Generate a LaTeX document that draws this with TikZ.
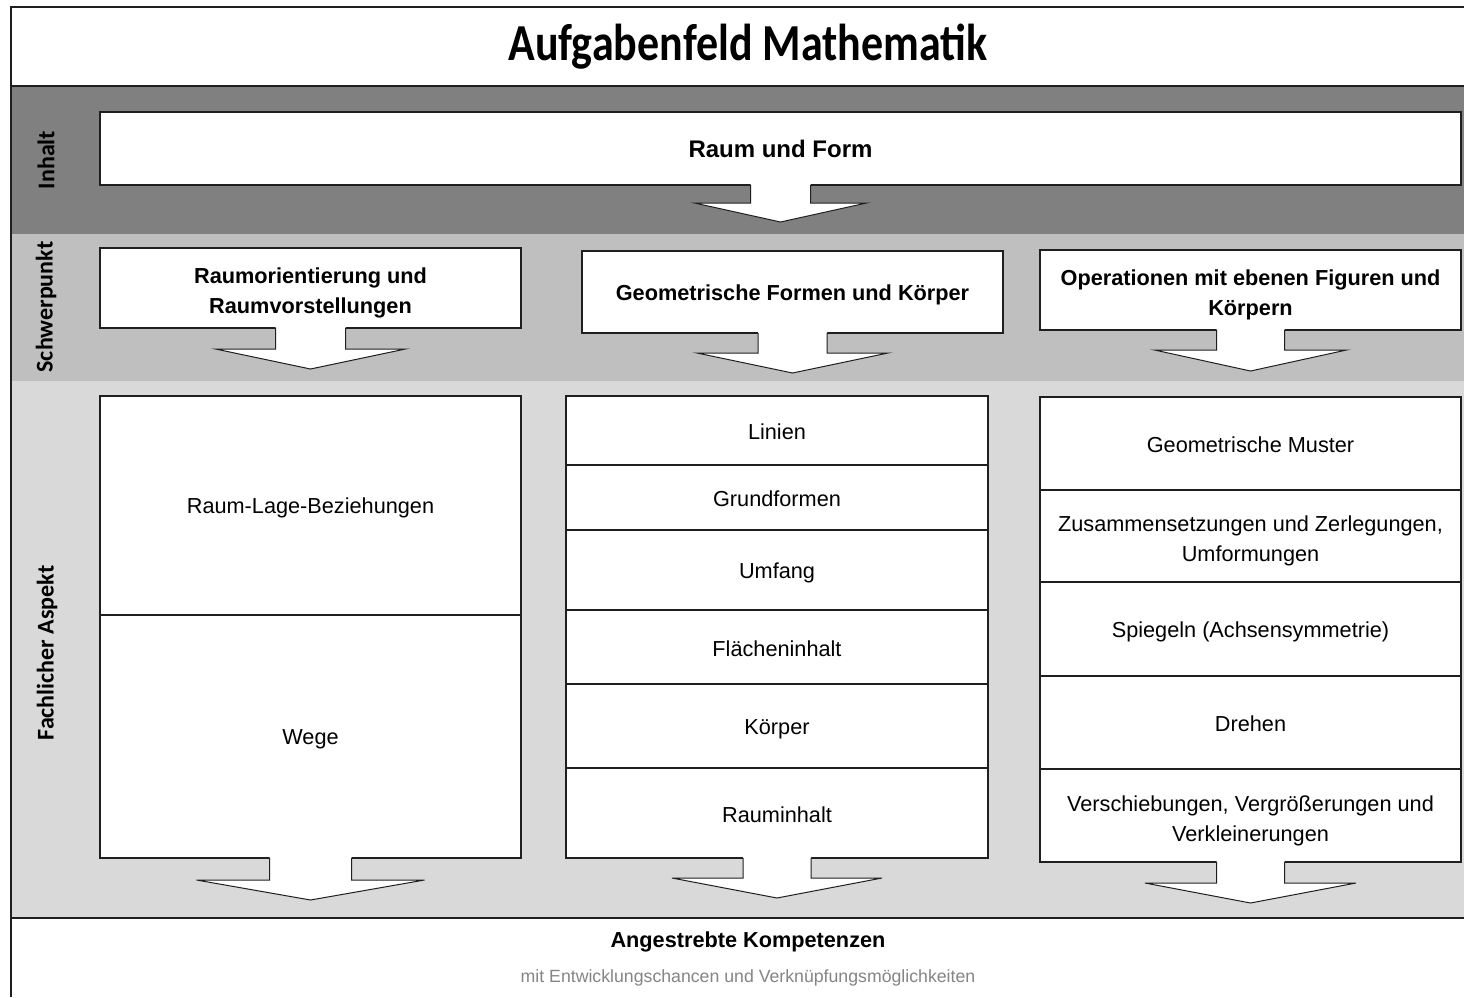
\documentclass[tikz,border=0pt]{standalone}
\usepackage{fontspec}
\setmainfont{Liberation Sans}
\newfontfamily\calibri{Carlito}
\usetikzlibrary{calc, positioning}
\definecolor{Dunkel}{gray}{0.5}
\definecolor{Mittel}{gray}{0.75}
\definecolor{Hell}{gray}{0.85}
\definecolor{Rand}{gray}{0.12}
\definecolor{Grau}{gray}{0.52}
\newcommand{\zeilenstuetze}{\rule[-3pt]{0pt}{24pt}}
\tikzset{
    kasten/.style={draw=Rand, fill=white, line width=1.3pt, outer sep=0pt, inner sep=0pt, align=center,
        font=\fontsize{21.7}{30}\selectfont, execute at begin node=\zeilenstuetze, execute at end node=\zeilenstuetze},
    fett/.style={kasten, font=\bfseries\fontsize{21.7}{30}\selectfont},
    zweizeilig/.style={text height=54pt, text depth=3pt},
    seite/.style={rotate=90, font=\calibri\bfseries\fontsize{24}{28}\selectfont},
    band/.style={draw=Rand, line width=1.3pt},
    pfeilrand/.style={draw=Rand, line width=1pt}
}
% Blockpfeil unter einem Kasten: Knoten, Schaft, Kopf, Schulter, Spitze
\newcommand{\blockpfeil}[5]{%
  \fill[white] ($(#1.south)+(-#2,-1)$) -- ($(#1.south)+(-#2,#4)$) -- ($(#1.south)+(-#3,#4)$) -- ($(#1.south)+(0,#5)$) -- ($(#1.south)+(#3,#4)$) -- ($(#1.south)+(#2,#4)$) -- ($(#1.south)+(#2,-1)$) -- cycle;
  \draw[pfeilrand] ($(#1.south)+(-#2,0)$) -- ($(#1.south)+(-#2,#4)$) -- ($(#1.south)+(-#3,#4)$) -- ($(#1.south)+(0,#5)$) -- ($(#1.south)+(#3,#4)$) -- ($(#1.south)+(#2,#4)$) -- ($(#1.south)+(#2,0)$);
}

\begin{document}
\begin{tikzpicture}[x=1pt, y=-1pt]
  \useasboundingbox (0,0) rectangle (1464,997);
  \fill[white] (0,0) rectangle (1464,997);

  % Baender
  \fill[Dunkel] (11,86) rectangle (1464,234);
  \fill[Mittel] (11,234) rectangle (1464,381);
  \fill[Hell] (11,381) rectangle (1464,918);
  \draw[band] (1464,7) -- (11,7) -- (11,997);
  \draw[band] (11,86) -- (1464,86);
  \draw[band] (11,918) -- (1464,918);

  \node (titel) at (748,47) {\scalebox{1}[1.18]{\calibri\bfseries\fontsize{44}{50}\selectfont Aufgabenfeld Mathematik}};

  \node[seite] (inhalt) at (46,160) {Inhalt};
  \node[seite] (schwerpunkt) at (46,307) {Schwerpunkt};
  \node[seite] (aspekt) at (47,653) {Fachlicher Aspekt};

  % Inhalt
  \node[fett, font=\bfseries\fontsize{24}{30}\selectfont, minimum width=1361, minimum height=73] (raum) at (780.5,148.5) {Raum und Form};
  \blockpfeil{raum}{30}{86}{18}{37}

  % Schwerpunkt
  \node[fett, zweizeilig, minimum width=421, minimum height=80] (orient) at (310.5,288) {Raumorientierung und\\Raumvorstellungen};
  \node[fett, minimum width=421, minimum height=82] (formen) at (792.5,292) {Geometrische Formen und Körper};
  \node[fett, zweizeilig, minimum width=421, minimum height=80] (operat) at (1250.5,290) {Operationen mit ebenen Figuren und\\Körpern};
  \blockpfeil{orient}{35}{95}{21}{41}
  \blockpfeil{formen}{34.5}{95.5}{20}{40}
  \blockpfeil{operat}{34}{96}{20}{41}

  % Fachlicher Aspekt
  \node[kasten, minimum width=421, minimum height=219, anchor=north] (lage) at (310.5,396) {Raum-Lage-Beziehungen};
  \node[kasten, minimum width=421, minimum height=243, below=0pt of lage] (wege) {Wege};

  \node[kasten, minimum width=422, minimum height=69, anchor=north] (linien) at (777,396) {Linien};
  \node[kasten, minimum width=422, minimum height=65, below=0pt of linien] (grund) {Grundformen};
  \node[kasten, minimum width=422, minimum height=80, below=0pt of grund] (umfang) {Umfang};
  \node[kasten, minimum width=422, minimum height=74, below=0pt of umfang] (flaeche) {Flächeninhalt};
  \node[kasten, minimum width=422, minimum height=84, below=0pt of flaeche] (koerper) {Körper};
  \node[kasten, minimum width=422, minimum height=90, below=0pt of koerper] (rauminhalt) {Rauminhalt};

  \node[kasten, minimum width=421, minimum height=93, anchor=north] (muster) at (1250.5,397) {Geometrische Muster};
  \node[kasten, zweizeilig, minimum width=421, minimum height=92, below=0pt of muster] (zerleg) {Zusammensetzungen und Zerlegungen,\\Umformungen};
  \node[kasten, minimum width=421, minimum height=94, below=0pt of zerleg] (spiegeln) {Spiegeln (Achsensymmetrie)};
  \node[kasten, minimum width=421, minimum height=93, below=0pt of spiegeln] (drehen) {Drehen};
  \node[kasten, zweizeilig, minimum width=421, minimum height=93, below=0pt of drehen] (verschieb) {Verschiebungen, Vergrößerungen und\\Verkleinerungen};

  \blockpfeil{wege}{41}{114}{22}{42}
  \blockpfeil{rauminhalt}{34}{105}{20}{40}
  \blockpfeil{verschieb}{34}{105.5}{21}{41}

  % Kompetenzen
  \node[font=\bfseries\fontsize{21.7}{26}\selectfont] (ziel) at (748,942) {Angestrebte Kompetenzen};
  \node[font=\fontsize{17.7}{20}\selectfont, text=Grau] (chancen) at (748,978) {mit Entwicklungschancen und Verknüpfungsmöglichkeiten};
\end{tikzpicture}
\end{document}
